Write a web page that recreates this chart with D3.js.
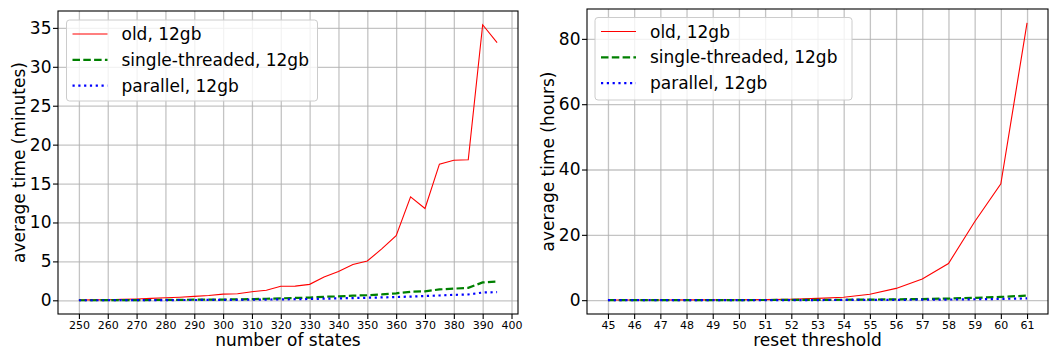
<!DOCTYPE html>
<html>
<head>
<meta charset="utf-8">
<script src="https://cdn.jsdelivr.net/npm/d3@7"></script>
<style>
  body { margin: 0; background: #fff; }
  svg { font-family: "DejaVu Sans", sans-serif; }
</style>
</head>
<body>
<svg class="figure" width="1049" height="351"></svg>
<script>
// left panel: time vs number of states
const numStates = [250, 255, 260, 265, 270, 275, 280, 285, 290, 295, 300, 305, 310, 315, 320,
                   325, 330, 335, 340, 345, 350, 355, 360, 365, 370, 375, 380, 385, 390, 395];
const oldMinutes = [0.03, 0.05, 0.08, 0.12, 0.17, 0.25, 0.33, 0.4, 0.5, 0.62, 0.8, 0.85, 1.1, 1.3, 1.8,
                    1.82, 2.05, 3.0, 3.7, 4.6, 5.05, 6.6, 8.3, 13.3, 11.8, 17.5, 18.0, 18.05, 35.4, 33.1];
const singleMinutes = [0.01, 0.01, 0.02, 0.02, 0.03, 0.04, 0.05, 0.06, 0.08, 0.09, 0.1, 0.12, 0.15, 0.2, 0.25,
                       0.3, 0.35, 0.45, 0.5, 0.6, 0.65, 0.75, 0.9, 1.1, 1.15, 1.4, 1.5, 1.6, 2.3, 2.4];
const parallelMinutes = [0.01, 0.01, 0.01, 0.02, 0.02, 0.03, 0.03, 0.04, 0.04, 0.05, 0.05, 0.06, 0.08, 0.1, 0.12,
                         0.14, 0.17, 0.21, 0.25, 0.29, 0.33, 0.37, 0.42, 0.48, 0.55, 0.62, 0.7, 0.75, 1.0, 1.05];
const statesTicks = [250, 260, 270, 280, 290, 300, 310, 320, 330, 340, 350, 360, 370, 380, 390, 400];
const minutesTicks = [0, 5, 10, 15, 20, 25, 30, 35];

// right panel: time vs reset threshold
const resetThreshold = [45, 46, 47, 48, 49, 50, 51, 52, 53, 54, 55, 56, 57, 58, 59, 60, 61];
const oldHours = [0.05, 0.05, 0.06, 0.08, 0.1, 0.13, 0.18, 0.3, 0.55, 0.9, 1.8, 3.6, 6.5, 11.2, 24, 35.6, 84.9];
const singleHours = [0.01, 0.01, 0.02, 0.02, 0.03, 0.04, 0.05, 0.07, 0.1, 0.13, 0.18, 0.25, 0.35, 0.5, 0.7, 1.0, 1.4];
const parallelHours = [0.01, 0.01, 0.01, 0.01, 0.02, 0.02, 0.03, 0.03, 0.04, 0.06, 0.08, 0.1, 0.15, 0.2, 0.28, 0.38, 0.55];
const thresholdTicks = [45, 46, 47, 48, 49, 50, 51, 52, 53, 54, 55, 56, 57, 58, 59, 60, 61];
const hoursTicks = [0, 20, 40, 60, 80];

const seriesNames = ["old, 12gb", "single-threaded, 12gb", "parallel, 12gb"];

const styles = [
  {color: "#ff0000", width: 1.1, dash: null},
  {color: "#008000", width: 2.2, dash: "7.5,3.3"},
  {color: "#0000ff", width: 2.2, dash: "2.2,3.6"}
];

const svg = d3.select('svg.figure');

function padded(extent){
  const pad = (extent[1] - extent[0]) * 0.05;
  return [extent[0] - pad, extent[1] + pad];
}

function drawPanel(cfg){
  const box = cfg.box;
  const g = svg.append('g').attr('class', 'panel');

  const allY = d3.merge(cfg.series);
  const x = d3.scaleLinear()
    .domain(padded(d3.extent(cfg.x)))
    .range([box.left, box.right]);
  const y = d3.scaleLinear()
    .domain(padded(d3.extent(allY)))
    .range([box.bottom, box.top]);

  // grid
  g.append('g')
    .attr('transform', `translate(0, ${box.bottom})`)
    .call(d3.axisBottom(x).tickValues(cfg.xTicks).tickSize(-(box.bottom - box.top)).tickFormat(''))
    .call(s => s.select('.domain').remove())
    .selectAll('line')
    .attr('stroke', '#b0b0b0')
    .attr('stroke-opacity', 0.75)
    .attr('stroke-width', 1.3);

  g.append('g')
    .attr('transform', `translate(${box.left}, 0)`)
    .call(d3.axisLeft(y).tickValues(cfg.yTicks).tickSize(-(box.right - box.left)).tickFormat(''))
    .call(s => s.select('.domain').remove())
    .selectAll('line')
    .attr('stroke', '#b0b0b0')
    .attr('stroke-opacity', 0.75)
    .attr('stroke-width', 1.3);

  // lines
  const line = d3.line()
    .x((d, i) => x(cfg.x[i]))
    .y(d => y(d));

  g.append('g')
    .selectAll('path.series')
    .data(cfg.series)
    .enter()
    .append('path')
    .attr('class', 'series')
    .attr('d', d => line(d))
    .attr('fill', 'none')
    .attr('stroke', (d, i) => styles[i].color)
    .attr('stroke-width', (d, i) => styles[i].width)
    .attr('stroke-dasharray', (d, i) => styles[i].dash);

  // axes
  const xAxis = g.append('g')
    .attr('transform', `translate(0, ${box.bottom})`)
    .call(d3.axisBottom(x).tickValues(cfg.xTicks).tickSize(5).tickPadding(1.8).tickFormat(d3.format('d')));
  xAxis.select('.domain').remove();
  xAxis.selectAll('text').style('font-size', '11px').attr('fill', '#000').style('font-family', '"DejaVu Sans", sans-serif');
  xAxis.selectAll('line').attr('stroke', '#000').attr('stroke-width', 1.1);

  const yAxis = g.append('g')
    .attr('transform', `translate(${box.left}, 0)`)
    .call(d3.axisLeft(y).tickValues(cfg.yTicks).tickSize(5).tickPadding(1.5).tickFormat(d3.format('d')));
  yAxis.select('.domain').remove();
  yAxis.selectAll('text').style('font-size', '17px').attr('fill', '#000').style('font-family', '"DejaVu Sans", sans-serif');
  yAxis.selectAll('line').attr('stroke', '#000').attr('stroke-width', 1.1);

  // spines
  g.append('rect')
    .attr('x', box.left)
    .attr('y', box.top)
    .attr('width', box.right - box.left)
    .attr('height', box.bottom - box.top)
    .attr('fill', 'none')
    .attr('stroke', '#000')
    .attr('stroke-width', 1.1);

  // axis titles
  g.append('text')
    .text(cfg.xLabel)
    .attr('x', (box.left + box.right) / 2)
    .attr('y', 346)
    .attr('text-anchor', 'middle')
    .style('font-size', '17px');

  g.append('text')
    .text(cfg.yLabel)
    .attr('transform', `translate(${box.left - 33}, ${(box.top + box.bottom) / 2}) rotate(-90)`)
    .attr('text-anchor', 'middle')
    .style('font-size', '17px');

  // legend
  const lg = cfg.legend;
  const legendG = g.append('g')
    .attr('transform', `translate(${lg.x}, ${lg.y})`);

  legendG.append('rect')
    .attr('width', lg.w)
    .attr('height', lg.h)
    .attr('rx', 3)
    .attr('fill', '#fff')
    .attr('fill-opacity', 0.8)
    .attr('stroke', '#cccccc')
    .attr('stroke-width', 1);

  const rows = legendG.selectAll('g.row')
    .data(seriesNames)
    .enter()
    .append('g')
    .attr('class', 'row')
    .attr('transform', (d, i) => `translate(0, ${14 + i * 25.8})`);

  rows.append('line')
    .attr('x1', 6)
    .attr('x2', 41)
    .attr('y1', 0)
    .attr('y2', 0)
    .attr('stroke', (d, i) => styles[i].color)
    .attr('stroke-width', (d, i) => styles[i].width)
    .attr('stroke-dasharray', (d, i) => styles[i].dash);

  rows.append('text')
    .text(d => d)
    .attr('x', 55)
    .attr('y', 6)
    .style('font-size', '17px');
}

drawPanel({
  box: {left: 58, right: 518, top: 11, bottom: 314},
  x: numStates,
  series: [oldMinutes, singleMinutes, parallelMinutes],
  xTicks: statesTicks,
  yTicks: minutesTicks,
  xLabel: "number of states",
  yLabel: "average time (minutes)",
  legend: {x: 66.5, y: 20, w: 251, h: 81}
});

drawPanel({
  box: {left: 587, right: 1048, top: 9, bottom: 314},
  x: resetThreshold,
  series: [oldHours, singleHours, parallelHours],
  xTicks: thresholdTicks,
  yTicks: hoursTicks,
  xLabel: "reset threshold",
  yLabel: "average time (hours)",
  legend: {x: 595, y: 17.5, w: 257, h: 82.5}
});
</script>
</body>
</html>
